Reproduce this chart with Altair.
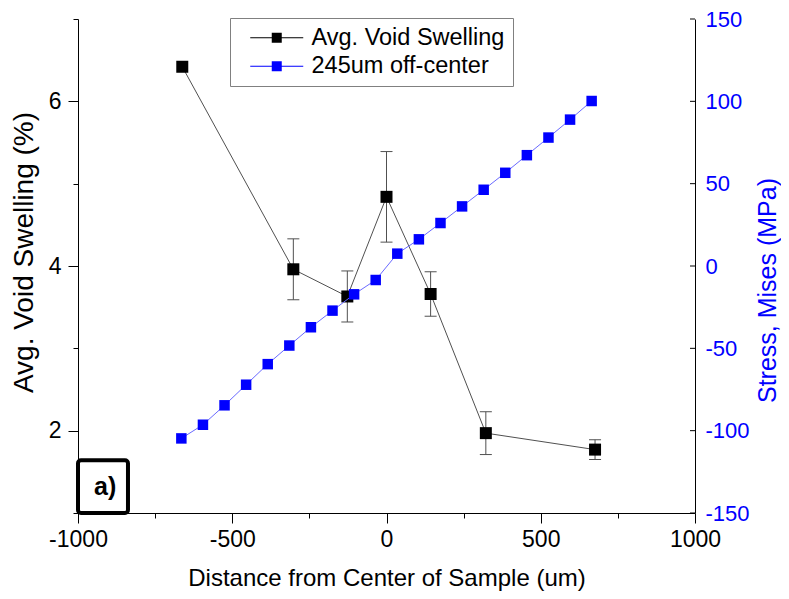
import altair as alt
import pandas as pd

FONT = "Liberation Sans"

# ---- Avg. void swelling (left axis) ----
dist_um = [-662, -302, -127, 0, 143, 322, 676]
swelling_pct = [6.42, 3.96, 3.63, 4.84, 3.66, 1.97, 1.77]
swelling_err = [0.0, 0.37, 0.31, 0.55, 0.27, 0.26, 0.12]

# ---- Von Mises stress, 245um off-center (right axis) ----
stress_x_um = [-665, -595, -525, -455, -385, -315, -245, -175, -105, -35,
               35, 105, 175, 245, 315, 385, 455, 525, 595, 665]
stress_mpa = [-104.7, -96.4, -84.6, -72.1, -59.6, -48.3, -37.2, -27.1, -17.2, -8.5,
              7.5, 16.2, 26.1, 36.2, 46.3, 56.6, 67.3, 78.0, 88.9, 100.2]

series_names = ["Avg. Void Swelling", "245um off-center"]
series_colors = ["black", "blue"]

x_ticks = [-1000, -750, -500, -250, 0, 250, 500, 750, 1000]
left_ticks = [1, 2, 3, 4, 5, 6, 7]
right_ticks = [-150, -100, -50, 0, 50, 100, 150]

# panel label box (data units)
panel_box_x = [-1000, -838]
panel_box_y = [1.0, 1.64]
panel_label = "a)"
panel_label_pos = [-912, 1.31]

swell = pd.DataFrame({"x": dist_um, "y": swelling_pct, "err": swelling_err,
                      "series": series_names[0]})
swell["lo"] = swell["y"] - swell["err"]
swell["hi"] = swell["y"] + swell["err"]
swell_err = swell[swell["err"] > 0]
stress = pd.DataFrame({"x": stress_x_um, "y": stress_mpa, "series": series_names[1]})
rticks = pd.DataFrame({"v": right_ticks})
box = pd.DataFrame({"x1": [panel_box_x[0]], "x2": [panel_box_x[1]],
                    "y1": [panel_box_y[0]], "y2": [panel_box_y[1]]})
lab = pd.DataFrame({"x": [panel_label_pos[0]], "y": [panel_label_pos[1]], "t": [panel_label]})

x_scale = alt.Scale(domain=[-1000, 1000], nice=False, zero=False)
yl_scale = alt.Scale(domain=[1, 7], nice=False, zero=False)
yr_scale = alt.Scale(domain=[-150, 150], nice=False, zero=False)

x_axis = alt.Axis(
    title="Distance from Center of Sample (um)", values=x_ticks,
    labelExpr="datum.value % 500 == 0 ? '' + datum.value : ''",
    tickSize={"condition": {"test": "datum.value % 500 == 0", "value": 10}, "value": 5},
    labelPadding=5, labelFontSize=23, labelFlush=False, labelOverlap=False,
    titleFontSize=24, titleBaseline="alphabetic", titleY=72,
)
yl_axis = alt.Axis(
    title="Avg. Void Swelling (%)", values=left_ticks, orient="left",
    labelExpr="datum.value % 2 == 0 ? '' + datum.value : ''",
    tickSize={"condition": {"test": "datum.value % 2 == 0", "value": 10}, "value": 5},
    labelPadding=7, labelFontSize=23, labelFlush=False, labelOverlap=False,
    titleFontSize=28, titleAngle=270, titleBaseline="middle", titleAlign="center",
    titleX=-54, titleY=233,
)
yr_axis = alt.Axis(
    title="Stress, Mises (MPa)", values=right_ticks, orient="right",
    labelExpr="'' + datum.value", ticks=False,
    labelPadding=10, labelFontSize=22, labelFlush=False, labelOverlap=False,
    labelColor="blue", titleColor="blue",
    titleFontSize=25, titleAngle=270, titleBaseline="middle", titleAlign="center",
    titleX=72, titleY=271,
)

legend_symbol = "M-2.65,-0.05H2.65V0.05H-2.65Z M-0.5,-0.5H0.5V0.5H-0.5Z"
legend = alt.Legend(
    title=None, orient="none", legendX=152, legendY=-1,
    symbolType=legend_symbol, symbolSize=400, symbolStrokeWidth=0,
    symbolOffset=27, labelOffset=23, labelFontSize=23.5, labelFont=FONT,
    labelLimit=500, padding=8, rowPadding=3.5,
    strokeColor="#808080", fillColor="white",
)
color = alt.Color("series:N", scale=alt.Scale(domain=series_names, range=series_colors),
                  legend=legend)

X = alt.X("x:Q", scale=x_scale, axis=x_axis)
YL = alt.Y("y:Q", scale=yl_scale, axis=yl_axis)

left_line = alt.Chart(swell).mark_line(color="#505050", strokeWidth=1).encode(x=X, y=YL)
err_rule = alt.Chart(swell_err).mark_rule(color="#505050", strokeWidth=1).encode(
    x=X, y=alt.Y("lo:Q", scale=yl_scale, axis=yl_axis), y2="hi:Q")
err_lo = alt.Chart(swell_err).mark_tick(orient="horizontal", size=12, thickness=1,
                                        color="#505050", opacity=1).encode(
    x=X, y=alt.Y("lo:Q", scale=yl_scale, axis=yl_axis))
err_hi = alt.Chart(swell_err).mark_tick(orient="horizontal", size=12, thickness=1,
                                        color="#505050", opacity=1).encode(
    x=X, y=alt.Y("hi:Q", scale=yl_scale, axis=yl_axis))
left_pts = alt.Chart(swell).mark_square(size=144, opacity=1, filled=True).encode(
    x=X, y=YL, color=color)
panel_rect = alt.Chart(box).mark_rect(fill="white", stroke="black", strokeWidth=4,
                                      cornerRadius=3).encode(
    x=alt.X("x1:Q", scale=x_scale, axis=x_axis), x2="x2:Q",
    y=alt.Y("y1:Q", scale=yl_scale, axis=yl_axis), y2="y2:Q")
panel_text = alt.Chart(lab).mark_text(font=FONT, fontSize=25, fontWeight="bold",
                                      color="black").encode(
    x=X, y=YL, text="t:N")

left_group = alt.layer(left_line, err_rule, err_lo, err_hi, left_pts, panel_rect, panel_text)

YR = alt.Y("y:Q", scale=yr_scale, axis=yr_axis)
right_line = alt.Chart(stress).mark_line(color="#6a6aff", strokeWidth=1).encode(x=X, y=YR)
right_pts = alt.Chart(stress).mark_square(size=110, opacity=1, filled=True).encode(
    x=X, y=YR, color=color)
right_tick_marks = alt.Chart(rticks).mark_rule(color="black", strokeWidth=1).encode(
    y=alt.Y("v:Q", scale=yr_scale, axis=yr_axis), x=alt.value(612), x2=alt.value(617))

right_group = alt.layer(right_line, right_pts, right_tick_marks)

chart = alt.layer(left_group, right_group).resolve_scale(y="independent").properties(
    width=617, height=494,
    padding={"left": 70, "top": 11, "right": 86, "bottom": 78},
    autosize=alt.AutoSizeParams(type="none"),
    background="white",
).configure_view(strokeWidth=0).configure_axis(
    grid=False, domainColor="black", domainWidth=1, tickColor="black", tickWidth=1,
    labelFont=FONT, titleFont=FONT, labelColor="black", titleColor="black",
    titleFontWeight="normal",
)

chart.save("out.html", embed_options={"renderer": "svg", "actions": False})
